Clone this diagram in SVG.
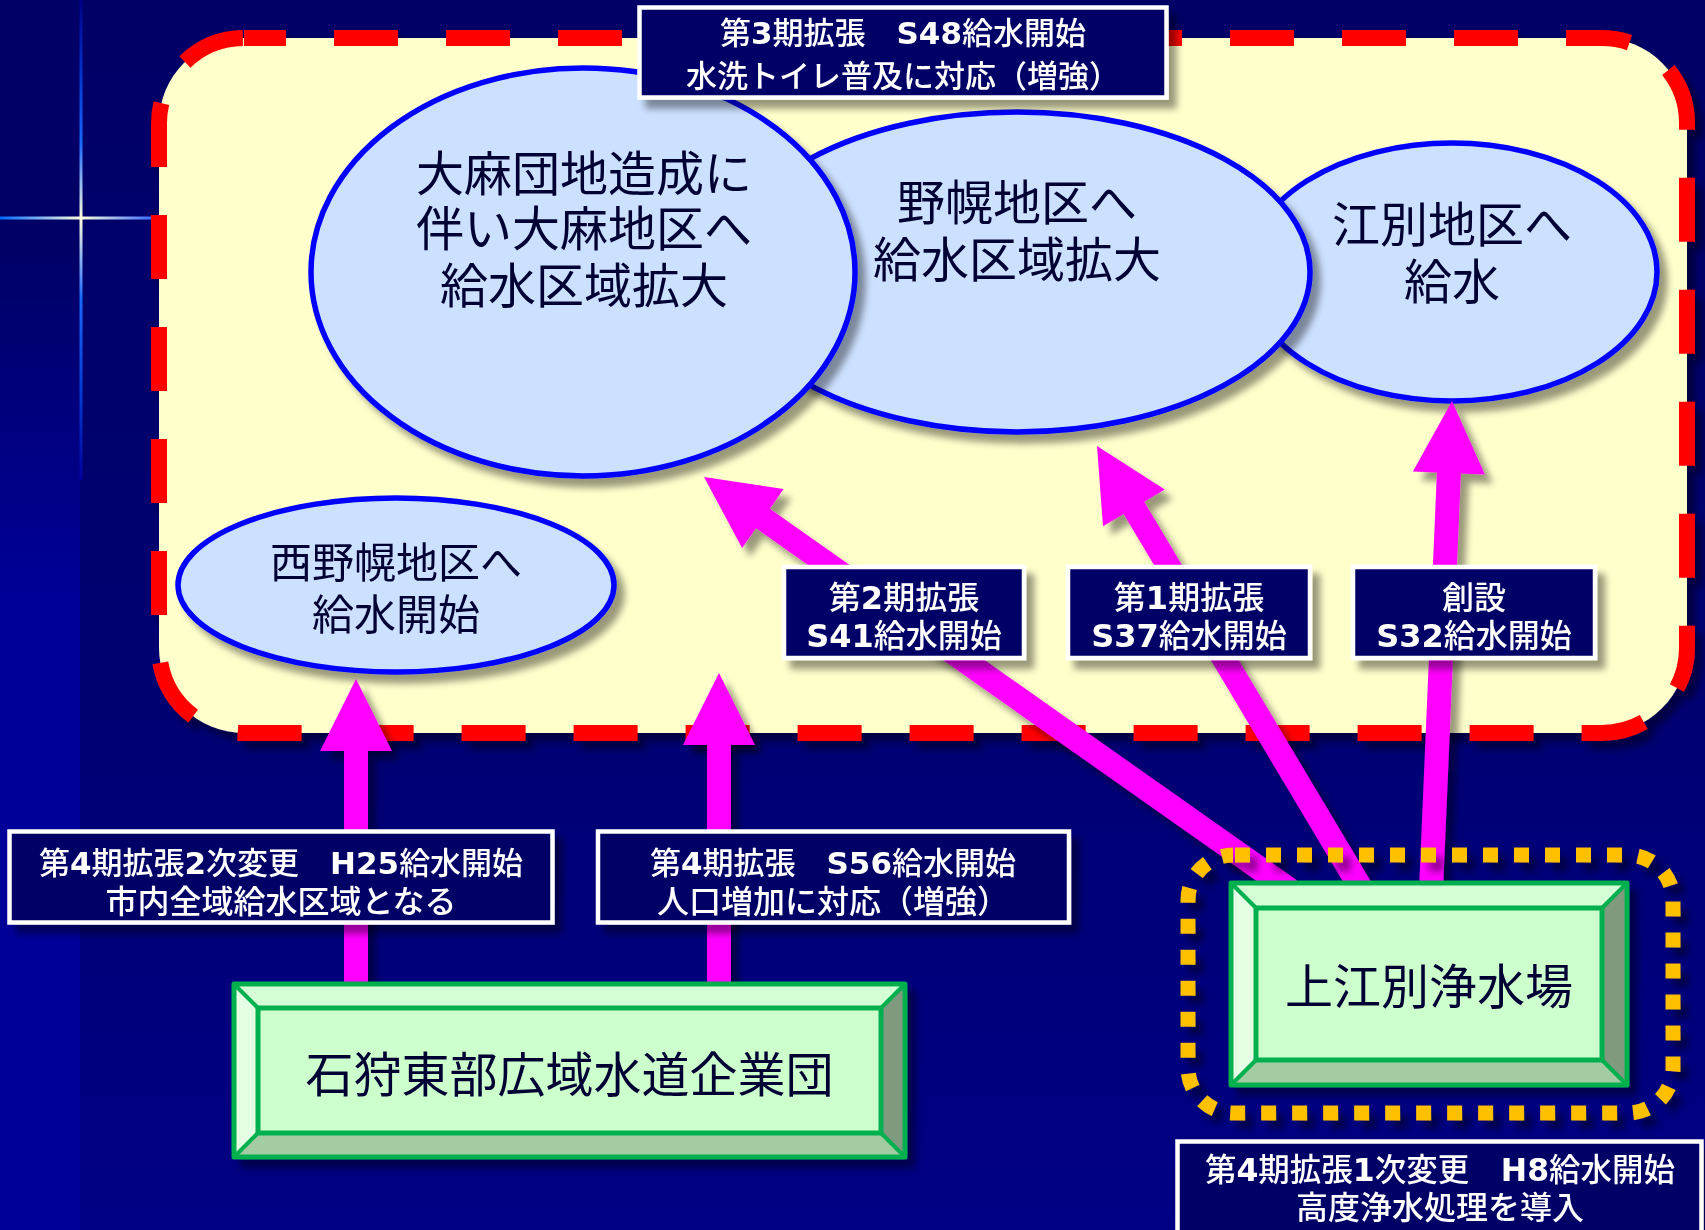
<svg xmlns="http://www.w3.org/2000/svg" width="1705" height="1230" viewBox="0 0 1705 1230">
<defs>
<linearGradient id="bg" x1="0" y1="0" x2="0" y2="1">
<stop offset="0" stop-color="#000066"/>
<stop offset="0.5" stop-color="#000070"/>
<stop offset="1" stop-color="#000084"/>
</linearGradient>
<linearGradient id="strip" gradientUnits="userSpaceOnUse" x1="0" y1="0" x2="0" y2="1230">
<stop offset="0.2" stop-color="#000066"/>
<stop offset="0.5" stop-color="#000099"/>
<stop offset="1" stop-color="#000099"/>
</linearGradient>
<linearGradient id="vline" gradientUnits="userSpaceOnUse" x1="0" y1="0" x2="0" y2="480">
<stop offset="0" stop-color="#000088"/>
<stop offset="0.15" stop-color="#0033cc"/>
<stop offset="0.3" stop-color="#1a6aff"/>
<stop offset="0.455" stop-color="#ffffdd"/>
<stop offset="0.62" stop-color="#1a6aff"/>
<stop offset="0.85" stop-color="#0033cc"/>
<stop offset="1" stop-color="#000099"/>
</linearGradient>
<linearGradient id="hline" gradientUnits="userSpaceOnUse" x1="0" y1="0" x2="155" y2="0">
<stop offset="0" stop-color="#0066ff"/>
<stop offset="0.52" stop-color="#ffffdd"/>
<stop offset="1" stop-color="#3366ff"/>
</linearGradient>
<filter id="sh" x="-10%" y="-10%" width="130%" height="130%">
<feGaussianBlur in="SourceAlpha" stdDeviation="3.5"/>
<feOffset dx="8" dy="9" result="o"/>
<feComponentTransfer><feFuncA type="linear" slope="0.4"/></feComponentTransfer>
<feMerge><feMergeNode/><feMergeNode in="SourceGraphic"/></feMerge>
</filter>
<style>
.ell{fill:#cce0ff;stroke:#0000ff;stroke-width:5.5}
.et{font-family:"Noto Sans CJK JP","Noto Sans CJK SC",sans-serif;fill:#000033;text-anchor:middle}
.lb{fill:#000066;stroke:#ffffff;stroke-width:4.5}
.lt{font-family:"Noto Sans CJK JP","Noto Sans CJK SC",sans-serif;font-weight:500;fill:#ffffff;text-anchor:middle}
.b{font-family:"DejaVu Sans",Verdana,sans-serif;font-weight:bold}
.arr{fill:#ff00ff}
.gs{stroke:#00b050;stroke-width:5;stroke-linejoin:round}
.gl{stroke:#00b050;stroke-width:4}
</style>
</defs>
<rect x="0" y="0" width="1705" height="1230" fill="url(#bg)"/>
<rect x="0" y="0" width="80" height="1230" fill="url(#strip)"/>
<rect x="79.5" y="0" width="3" height="480" fill="url(#vline)"/>
<rect x="0" y="216.5" width="155" height="3" fill="url(#hline)"/>

<g id="area" filter="url(#sh)">
<rect x="159" y="38" width="1528" height="695" rx="85" ry="85" fill="#ffffcc" stroke="#ff0000" stroke-width="16" stroke-dasharray="64 48" stroke-dashoffset="22"/>
</g>

<g id="ebetsu" filter="url(#sh)">
<ellipse class="ell" cx="1452" cy="272" rx="205" ry="129"/>
<text class="et" font-size="48"><tspan x="1452" y="242">江別地区へ</tspan><tspan x="1452" y="299">給水</tspan></text>
</g>
<g id="nopporo" filter="url(#sh)">
<ellipse class="ell" cx="1017" cy="272" rx="293" ry="160"/>
<text class="et" font-size="48"><tspan x="1017" y="220">野幌地区へ</tspan><tspan x="1017" y="277">給水区域拡大</tspan></text>
</g>
<g id="oasa" filter="url(#sh)">
<ellipse class="ell" cx="583" cy="272" rx="272" ry="204"/>
<text class="et" font-size="48"><tspan x="584" y="191">大麻団地造成に</tspan><tspan x="584" y="246">伴い大麻地区へ</tspan><tspan x="584" y="303">給水区域拡大</tspan></text>
</g>
<g id="nishinopporo" filter="url(#sh)">
<ellipse class="ell" cx="396" cy="585" rx="218" ry="87"/>
<text class="et" font-size="42"><tspan x="396" y="578">西野幌地区へ</tspan><tspan x="396" y="630">給水開始</tspan></text>
</g>

<g id="connectors" filter="url(#sh)">
<polygon class="arr" points="356,679 392,751 368,751 368,990 344,990 344,751 320,751"/>
<polygon class="arr" points="719,673 755,745 731,745 731,990 707,990 707,745 683,745"/>
<polygon class="arr" points="1452,401 1484.9,474.5 1460.9,473.4 1443,890.5 1419,889.5 1436.9,472.4 1412.9,471.4"/>
<polygon class="arr" points="1097,446 1164.8,489.4 1144.2,501.65 1372.3,883.85 1351.7,896.15 1123.6,513.95 1103,526.3"/>
<polygon class="arr" points="704,477 783.6,489.05 769.8,508.7 1296.9,880.2 1283.1,899.8 755.9,528.3 742.1,547.9"/>
</g>

<g id="label-s48" filter="url(#sh)">
<rect class="lb" x="639.5" y="7.5" width="527" height="90"/>
<text class="lt" font-size="31"><tspan x="903" y="44">第<tspan class="b">3</tspan>期拡張　<tspan class="b">S48</tspan>給水開始</tspan><tspan x="903" y="87">水洗トイレ普及に対応（増強）</tspan></text>
</g>
<g id="label-s41" filter="url(#sh)">
<rect class="lb" x="784" y="567" width="240" height="91"/>
<text class="lt" font-size="32"><tspan x="904" y="609">第<tspan class="b">2</tspan>期拡張</tspan><tspan x="904" y="647"><tspan class="b">S41</tspan>給水開始</tspan></text>
</g>
<g id="label-s37" filter="url(#sh)">
<rect class="lb" x="1068" y="567" width="242" height="91"/>
<text class="lt" font-size="32"><tspan x="1189" y="609">第<tspan class="b">1</tspan>期拡張</tspan><tspan x="1189" y="647"><tspan class="b">S37</tspan>給水開始</tspan></text>
</g>
<g id="label-s32" filter="url(#sh)">
<rect class="lb" x="1353" y="567" width="242" height="91"/>
<text class="lt" font-size="32"><tspan x="1474" y="609">創設</tspan><tspan x="1474" y="647"><tspan class="b">S32</tspan>給水開始</tspan></text>
</g>
<g id="label-h25" filter="url(#sh)">
<rect class="lb" x="9.5" y="831.5" width="543" height="91"/>
<text class="lt" font-size="32"><tspan x="281" y="874" font-size="31">第<tspan class="b">4</tspan>期拡張<tspan class="b">2</tspan>次変更　<tspan class="b">H25</tspan>給水開始</tspan><tspan x="281" y="913">市内全域給水区域となる</tspan></text>
</g>
<g id="label-s56" filter="url(#sh)">
<rect class="lb" x="598" y="831.5" width="471" height="91"/>
<text class="lt" font-size="32"><tspan x="833" y="874" font-size="31">第<tspan class="b">4</tspan>期拡張　<tspan class="b">S56</tspan>給水開始</tspan><tspan x="833" y="913">人口増加に対応（増強）</tspan></text>
</g>
<g id="label-h8" filter="url(#sh)">
<rect class="lb" x="1177.5" y="1141.5" width="524" height="100"/>
<text class="lt" font-size="32"><tspan x="1440" y="1181" font-size="31.5">第<tspan class="b">4</tspan>期拡張<tspan class="b">1</tspan>次変更　<tspan class="b">H8</tspan>給水開始</tspan><tspan x="1440" y="1219">高度浄水処理を導入</tspan></text>
</g>

<g id="ishikari" filter="url(#sh)">
<rect x="234" y="984" width="671" height="173" fill="#ccffcc"/>
<polygon points="234,984 905,984 881,1008 258,1008" fill="#d5ffd5"/>
<polygon points="234,984 258,1008 258,1133 234,1157" fill="#e5ffe5"/>
<polygon points="905,984 905,1157 881,1133 881,1008" fill="#7f9a7f"/>
<polygon points="234,1157 258,1133 881,1133 905,1157" fill="#a3cca3"/>
<line class="gl" x1="234" y1="984" x2="258" y2="1008"/>
<line class="gl" x1="905" y1="984" x2="881" y2="1008"/>
<line class="gl" x1="234" y1="1157" x2="258" y2="1133"/>
<line class="gl" x1="905" y1="1157" x2="881" y2="1133"/>
<rect class="gs" x="258" y="1008" width="623" height="125" fill="none"/>
<rect class="gs" x="234" y="984" width="671" height="173" fill="none"/>
<text class="et" font-size="48" x="569.5" y="1092">石狩東部広域水道企業団</text>
</g>

<g id="kamiebetsu-area" filter="url(#sh)">
<rect x="1188" y="855" width="485" height="258" rx="45" ry="45" fill="none" stroke="#ffc000" stroke-width="15" stroke-dasharray="15 16" stroke-dashoffset="-2"/>
</g>
<g id="kamiebetsu" filter="url(#sh)">
<rect x="1231" y="883" width="396" height="202" fill="#ccffcc"/>
<polygon points="1231,883 1627,883 1602,908 1256,908" fill="#d5ffd5"/>
<polygon points="1231,883 1256,908 1256,1060 1231,1085" fill="#e5ffe5"/>
<polygon points="1627,883 1627,1085 1602,1060 1602,908" fill="#7f9a7f"/>
<polygon points="1231,1085 1256,1060 1602,1060 1627,1085" fill="#a3cca3"/>
<line class="gl" x1="1231" y1="883" x2="1256" y2="908"/>
<line class="gl" x1="1627" y1="883" x2="1602" y2="908"/>
<line class="gl" x1="1231" y1="1085" x2="1256" y2="1060"/>
<line class="gl" x1="1627" y1="1085" x2="1602" y2="1060"/>
<rect class="gs" x="1256" y="908" width="346" height="152" fill="none"/>
<rect class="gs" x="1231" y="883" width="396" height="202" fill="none"/>
<text class="et" font-size="48" x="1429" y="1004">上江別浄水場</text>
</g>
</svg>
